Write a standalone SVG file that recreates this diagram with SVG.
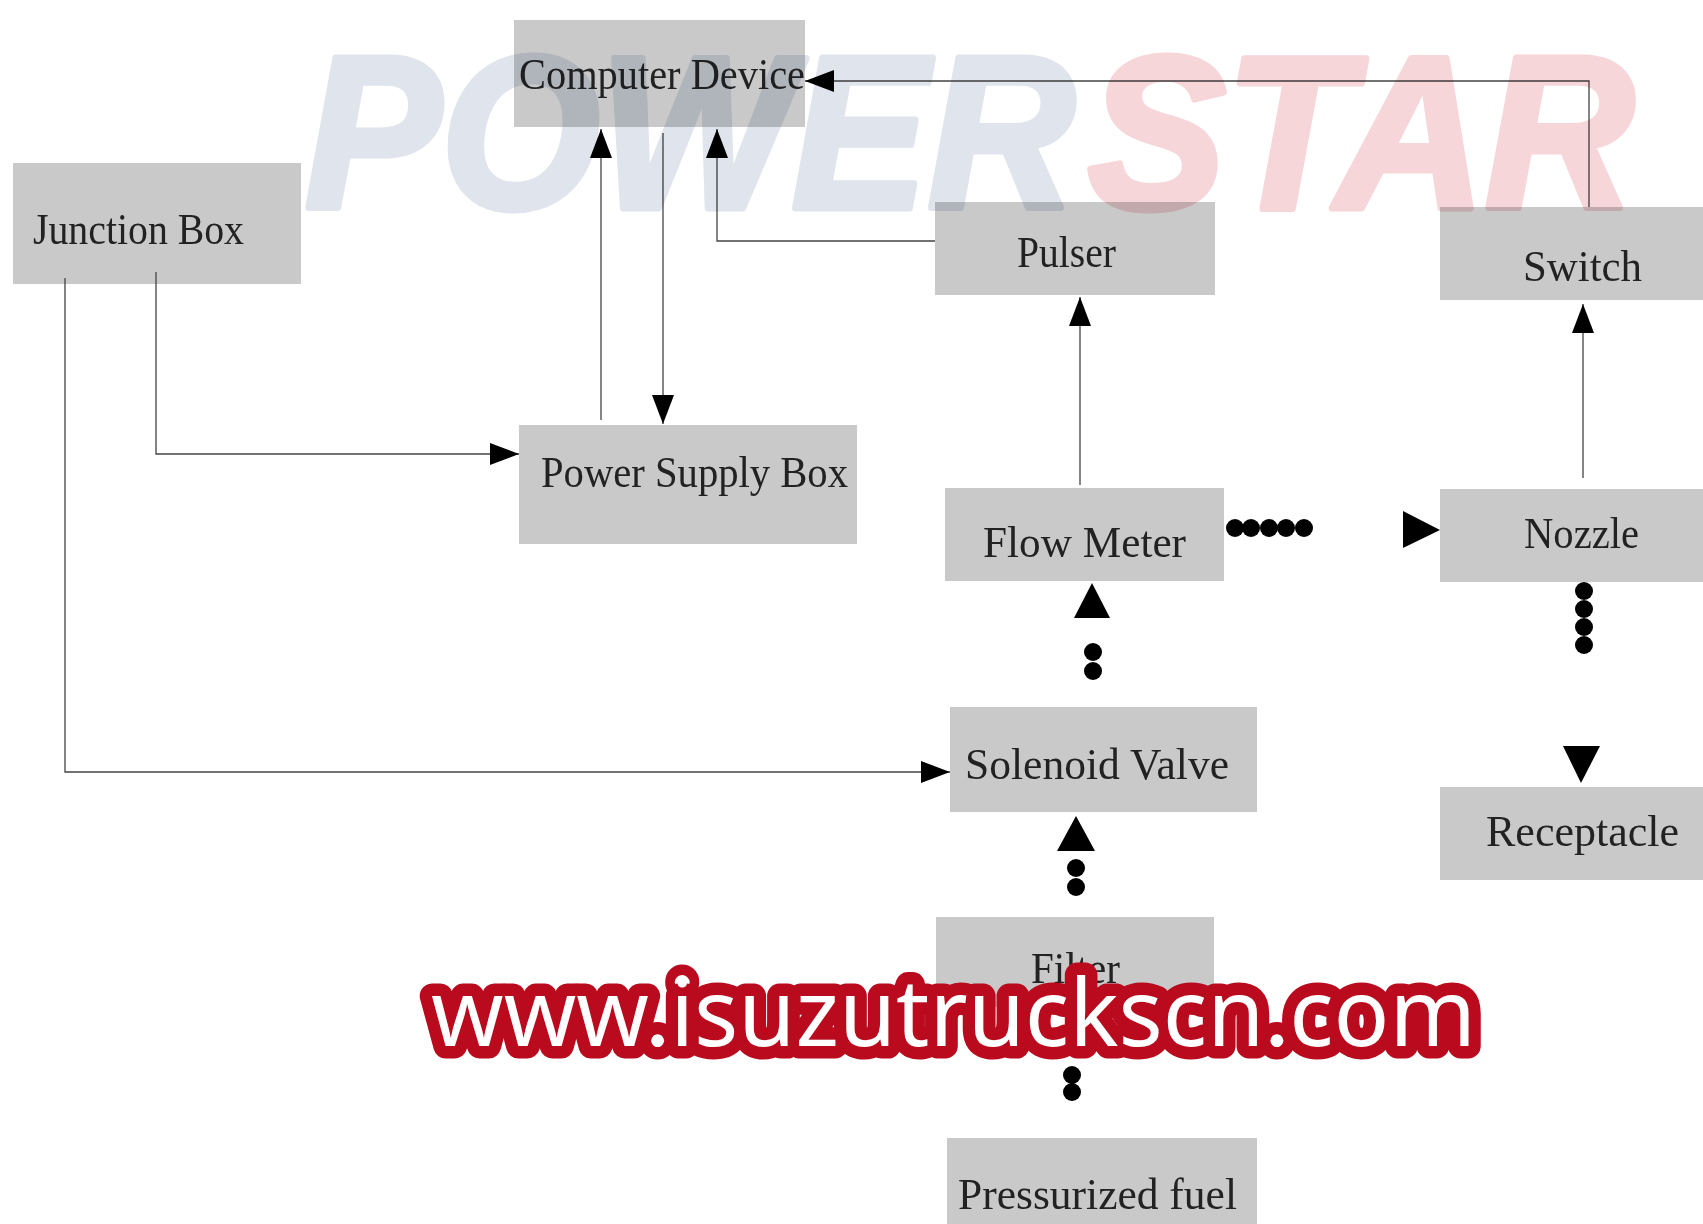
<svg xmlns="http://www.w3.org/2000/svg" width="1703" height="1224" viewBox="0 0 1703 1224">
<style>
.box{fill:#c9c9c9}
.lbl{font-family:"Liberation Serif","Times New Roman",serif;font-size:44px;fill:#222}
.wire{fill:none;stroke:#444;stroke-width:1.3}
.dot{fill:#000}
.head{fill:#000}
.mark{font-family:"Liberation Sans",Arial,sans-serif;font-size:218px;font-weight:bold;font-style:italic;mix-blend-mode:multiply;stroke-width:7px;stroke-linejoin:round}
.url{font-family:"Noto Sans","Open Sans",sans-serif;font-size:94px;font-weight:400;fill:#fff;stroke:#b90a1e;stroke-width:25px;stroke-linejoin:round;paint-order:stroke}
</style>
<defs>
<marker id="tip" markerUnits="userSpaceOnUse" markerWidth="30" markerHeight="24" refX="29" refY="11" orient="auto"><path d="M0 0L29 11L0 22Z" fill="#000"/></marker>
<circle id="d" r="9"/>
</defs>
<rect width="1703" height="1224" fill="#fff"/>
<g id="node-computer"><rect class="box" x="514" y="20" width="291" height="107"/><text class="lbl" x="519" y="89" textLength="286" lengthAdjust="spacingAndGlyphs">Computer Device</text></g>
<g id="node-junction"><rect class="box" x="13" y="163" width="288" height="121"/><text class="lbl" x="33" y="244" textLength="211" lengthAdjust="spacingAndGlyphs">Junction Box</text></g>
<g id="node-pulser"><rect class="box" x="935" y="202" width="280" height="93"/><text class="lbl" x="1017" y="267" textLength="99" lengthAdjust="spacingAndGlyphs">Pulser</text></g>
<g id="node-switch"><rect class="box" x="1440" y="207" width="263" height="93"/><text class="lbl" x="1523" y="281" textLength="119" lengthAdjust="spacingAndGlyphs">Switch</text></g>
<g id="node-power"><rect class="box" x="519" y="425" width="338" height="119"/><text class="lbl" x="541" y="487" textLength="307" lengthAdjust="spacingAndGlyphs">Power Supply Box</text></g>
<g id="node-flow"><rect class="box" x="945" y="488" width="279" height="93"/><text class="lbl" x="983" y="557" textLength="203" lengthAdjust="spacingAndGlyphs">Flow Meter</text></g>
<g id="node-nozzle"><rect class="box" x="1440" y="489" width="263" height="93"/><text class="lbl" x="1524" y="548" textLength="115" lengthAdjust="spacingAndGlyphs">Nozzle</text></g>
<g id="node-solenoid"><rect class="box" x="950" y="707" width="307" height="105"/><text class="lbl" x="965" y="779" textLength="264" lengthAdjust="spacingAndGlyphs">Solenoid Valve</text></g>
<g id="node-receptacle"><rect class="box" x="1440" y="787" width="263" height="93"/><text class="lbl" x="1486" y="846" textLength="193" lengthAdjust="spacingAndGlyphs">Receptacle</text></g>
<g id="node-filter"><rect class="box" x="936" y="917" width="278" height="90"/><text class="lbl" x="1031" y="983" textLength="89" lengthAdjust="spacingAndGlyphs">Filter</text></g>
<g id="node-fuel"><rect class="box" x="947" y="1138" width="310" height="86"/><text class="lbl" x="958" y="1209" textLength="279" lengthAdjust="spacingAndGlyphs">Pressurized fuel</text></g>
<g id="connectors">
<path class="wire" marker-end="url(#tip)" d="M1589 207V81H805"/>
<path class="wire" marker-end="url(#tip)" d="M601 420V129"/>
<path class="wire" marker-end="url(#tip)" d="M663 133V424"/>
<path class="wire" marker-end="url(#tip)" d="M935 241H717V129"/>
<path class="wire" marker-end="url(#tip)" d="M156 272V454H519"/>
<path class="wire" marker-end="url(#tip)" d="M65 278V772H950"/>
<path class="wire" marker-end="url(#tip)" d="M1080 485V297"/>
<path class="wire" marker-end="url(#tip)" d="M1583 478V304"/>
<g class="dot">
<use href="#d" x="1235" y="528"/><use href="#d" x="1251" y="528"/><use href="#d" x="1269" y="528"/><use href="#d" x="1286" y="528"/><use href="#d" x="1304" y="528"/>
<use href="#d" x="1584" y="591"/><use href="#d" x="1584" y="609"/><use href="#d" x="1584" y="627"/><use href="#d" x="1584" y="645"/>
<use href="#d" x="1093" y="652"/><use href="#d" x="1093" y="671"/>
<use href="#d" x="1076" y="868"/><use href="#d" x="1076" y="887"/>
<use href="#d" x="1072" y="1075"/><use href="#d" x="1072" y="1092"/>
</g>
<path class="head" d="M1403 511L1440 530L1403 548Z"/>
<path class="head" d="M1563 746H1600L1581 783Z"/>
<path class="head" d="M1074 618H1110L1092 583Z"/>
<path class="head" d="M1057 851H1095L1076 816Z"/>
</g>
<g id="watermark-brand">
<text class="mark" x="305" y="208" fill="#dfe4ed" stroke="#dfe4ed" textLength="770" lengthAdjust="spacingAndGlyphs">POWER</text>
<text class="mark" x="1088" y="208" fill="#f7d6da" stroke="#f7d6da" textLength="546" lengthAdjust="spacingAndGlyphs">STAR</text>
</g>
<g id="watermark-url"><text class="url" x="431" y="1046" textLength="1045" lengthAdjust="spacingAndGlyphs">www.isuzutruckscn.com</text></g>
</svg>
